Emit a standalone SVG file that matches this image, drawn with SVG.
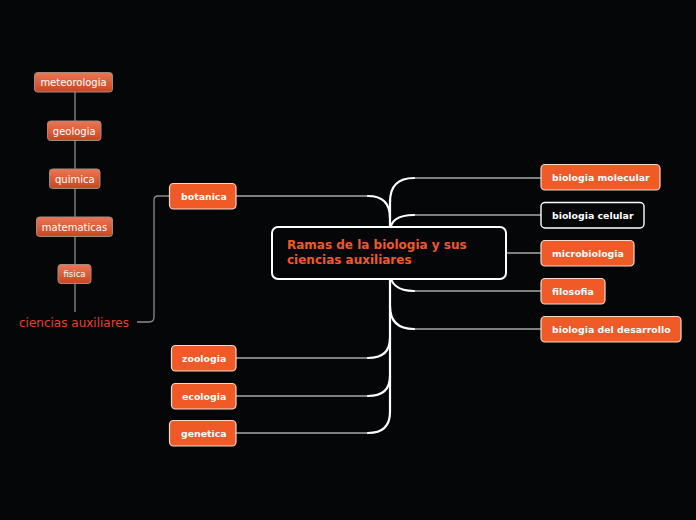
<svg xmlns="http://www.w3.org/2000/svg" width="696" height="520" viewBox="0 0 696 520">
<defs>
<linearGradient id="sg" x1="0" y1="0" x2="0" y2="1">
<stop offset="0" stop-color="#ec7656"/>
<stop offset="1" stop-color="#c9461f"/>
</linearGradient>
<style>
.bg{fill:#050608}
.trunk{fill:none;stroke:#ffffff;stroke-width:2.2;stroke-linecap:round}
.hl{fill:none;stroke:#a8a8a8;stroke-width:1.4}
.sub{fill:none;stroke:#8c8c8c;stroke-width:1.3}
.on{fill:#ef5a27;stroke:#f3d9cf;stroke-width:1.2}
.bn{fill:#050608;stroke:#ffffff;stroke-width:1.4}
.cn{fill:#050608;stroke:#ffffff;stroke-width:2}
.sn{fill:url(#sg);stroke:#a08a84;stroke-width:1}
.bt{font-family:"DejaVu Sans",Verdana,sans-serif;font-weight:bold;font-size:9.4px;fill:#ffffff}
.st{font-family:"DejaVu Sans",Verdana,sans-serif;font-size:10px;fill:#ffffff;text-anchor:middle}
.ct{font-family:"DejaVu Sans",Verdana,sans-serif;font-weight:bold;font-size:12px;fill:#ef5a27}
.ca{font-family:"DejaVu Sans",Verdana,sans-serif;font-size:12px;fill:#e8402e}
</style>
</defs>
<rect class="bg" x="0" y="0" width="696" height="520"/>
<g id="connectors">
<path class="hl" d="M414,178 L541,178"/>
<path class="hl" d="M414,215 L541,215"/>
<path class="hl" d="M506,253 L541,253"/>
<path class="hl" d="M414,291 L541,291"/>
<path class="hl" d="M414,329 L541,329"/>
<path class="hl" d="M368,196 L236,196"/>
<path class="hl" d="M368,358 L236,358"/>
<path class="hl" d="M368,396 L236,396"/>
<path class="hl" d="M368,433 L236,433"/>
<path class="trunk" d="M390,200 L390,412"/>
<path class="trunk" d="M390,202 C390,186 398,178 414,178"/>
<path class="trunk" d="M390,232 C390,220 398,215 414,215"/>
<path class="trunk" d="M390,272 C390,284 398,291 414,291"/>
<path class="trunk" d="M390,306 C390,321 398,329 414,329"/>
<path class="trunk" d="M390,218 C390,203 383,196 368,196"/>
<path class="trunk" d="M390,338 C390,351 383,358 368,358"/>
<path class="trunk" d="M390,376 C390,389 383,396 368,396"/>
<path class="trunk" d="M390,412 C390,426 383,433 368,433"/>
<path class="sub" d="M169,196 L158,196 Q154,196 154,200 L154,317 Q154,322 149,322 L137,322"/>
<path class="sub" d="M75,92 L75,312"/>
</g>
<g id="central">
<rect class="cn" x="272" y="227" width="234" height="52" rx="6"/>
<text class="ct" x="287" y="249">Ramas de la biologia y sus</text>
<text class="ct" x="287" y="264">ciencias auxiliares</text>
</g>
<g id="biologia-molecular">
<rect class="on" x="541" y="164.5" width="119" height="25.5" rx="4"/>
<text class="bt" x="552" y="181">biologia molecular</text>
</g>
<g id="biologia-celular">
<rect class="bn" x="541" y="202.5" width="103" height="25.5" rx="4"/>
<text class="bt" x="552" y="219">biologia celular</text>
</g>
<g id="microbiologia">
<rect class="on" x="541" y="240.5" width="93" height="25.5" rx="4"/>
<text class="bt" x="552" y="257">microbiologia</text>
</g>
<g id="filosofia">
<rect class="on" x="541" y="278.5" width="64" height="25.5" rx="4"/>
<text class="bt" x="552" y="295">filosofia</text>
</g>
<g id="biologia-del-desarrollo">
<rect class="on" x="541" y="316.5" width="140" height="25.5" rx="4"/>
<text class="bt" x="552" y="333">biologia del desarrollo</text>
</g>
<g id="botanica">
<rect class="on" x="169.5" y="183.5" width="66.5" height="25.5" rx="4"/>
<text class="bt" x="181" y="200">botanica</text>
</g>
<g id="zoologia">
<rect class="on" x="171.5" y="345.5" width="64.5" height="25.5" rx="4"/>
<text class="bt" x="182" y="362">zoologia</text>
</g>
<g id="ecologia">
<rect class="on" x="171.5" y="383.5" width="64.5" height="25.5" rx="4"/>
<text class="bt" x="182" y="400">ecologia</text>
</g>
<g id="genetica">
<rect class="on" x="169.5" y="420.5" width="66.5" height="25.5" rx="4"/>
<text class="bt" x="181" y="437">genetica</text>
</g>
<g id="ciencias-auxiliares">
<text class="ca" x="19" y="327">ciencias auxiliares</text>
</g>
<g id="meteorologia">
<rect class="sn" x="34.5" y="72.5" width="78" height="19.5" rx="3"/>
<text class="st" x="73.5" y="86">meteorologia</text>
</g>
<g id="geologia">
<rect class="sn" x="47.5" y="121" width="53.5" height="19.5" rx="3"/>
<text class="st" x="74.2" y="134.5">geologia</text>
</g>
<g id="quimica">
<rect class="sn" x="49.5" y="169" width="50.5" height="19.5" rx="3"/>
<text class="st" x="74.8" y="182.5">quimica</text>
</g>
<g id="matematicas">
<rect class="sn" x="36.5" y="217" width="76" height="19.5" rx="3"/>
<text class="st" x="74.5" y="230.5">matematicas</text>
</g>
<g id="fisica">
<rect class="sn" x="58" y="264.5" width="33" height="19" rx="3"/>
<text class="st" x="74.5" y="277" style="font-size:8.5px">fisica</text>
</g>
</svg>
